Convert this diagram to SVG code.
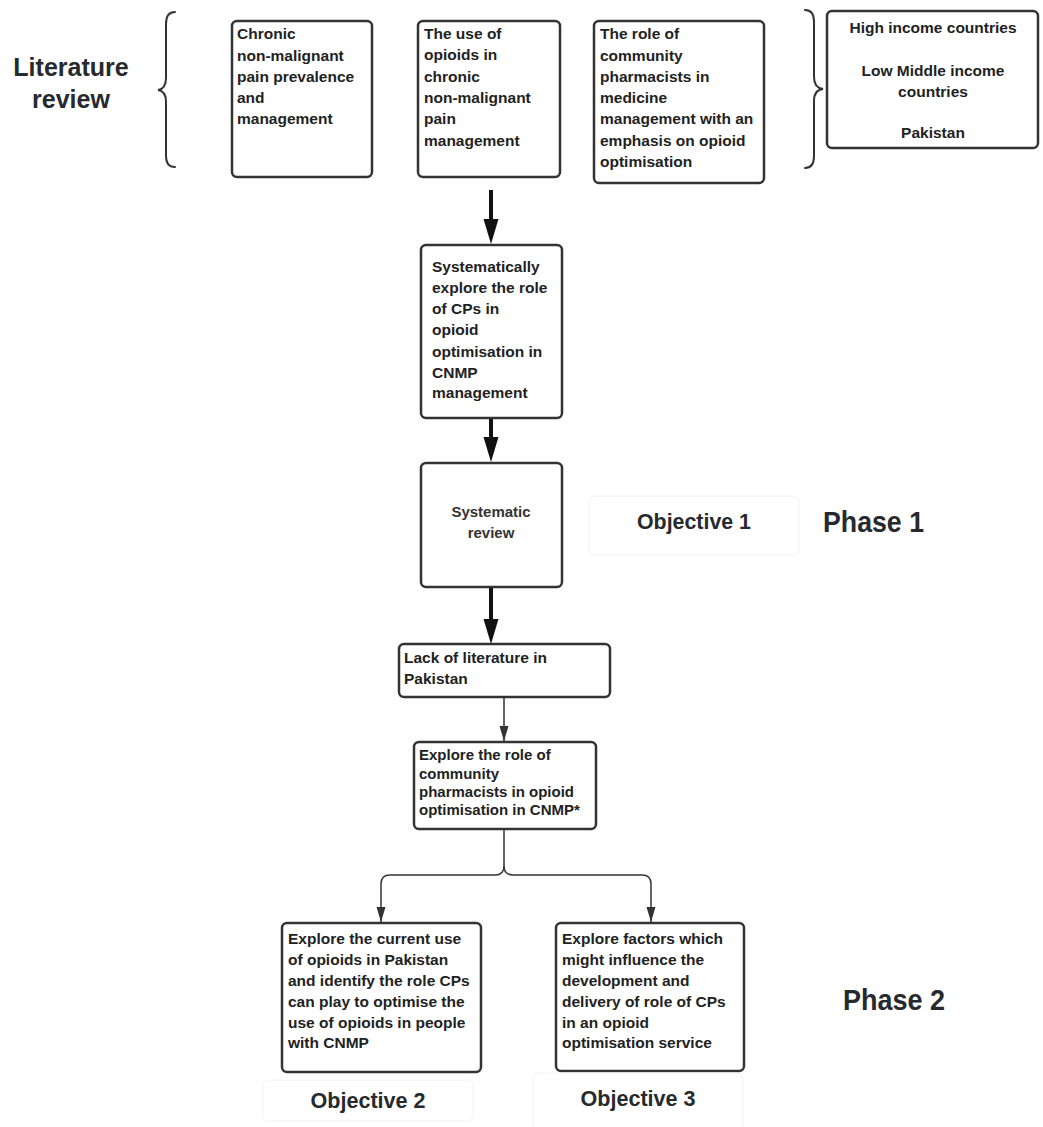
<svg xmlns="http://www.w3.org/2000/svg" width="1043" height="1127" viewBox="0 0 1043 1127">
  <style>
    .box { fill: #ffffff; stroke: #333333; stroke-width: 2.5; }
    .ghost { fill: #ffffff; stroke: #f2f2f2; stroke-width: 1; }
    .t { font-family: "Liberation Sans", Arial, sans-serif; font-weight: bold; font-size: 15.5px; fill: #222222; }
    .small { font-size: 15px; }
    .sr { font-size: 15px; fill: #333333; }
    .c { text-anchor: middle; }
    .big { font-family: "Liberation Sans", Arial, sans-serif; font-weight: bold; fill: #262a2e; }
    .brace { fill: none; stroke: #333333; stroke-width: 2; stroke-linecap: round; }
    .thick { stroke: #111111; stroke-width: 4; fill: none; }
    .thin { stroke: #333333; stroke-width: 1.5; fill: none; }
  </style>
  <defs>
    <marker id="headThick" markerUnits="userSpaceOnUse" markerWidth="26" markerHeight="16" refX="14" refY="8" orient="auto">
      <path d="M0,0.5 L25,8 L0,15.5 z" fill="#111111"/>
    </marker>
    <marker id="headThin" markerUnits="userSpaceOnUse" markerWidth="16" markerHeight="10" refX="15" refY="5" orient="auto">
      <path d="M0,0.5 L15,5 L0,9.5 z" fill="#333333"/>
    </marker>
  </defs>

  <rect width="1043" height="1127" fill="#ffffff"/>

  <!-- Section heading and braces -->
  <g id="literature-review">
    <text class="big c" x="71" y="76" font-size="25">Literature</text>
    <text class="big c" x="71" y="108" font-size="25">review</text>
  </g>
  <g id="brace-left">
    <path class="brace" d="M175,12 Q166,12 166,24 V78 Q166,89 158,90 Q166,91 166,102 V156 Q166,167 175,167"/>
  </g>
  <g id="brace-right">
    <path class="brace" d="M805,10 Q814,10 814,22 V77 Q814,88 823,89 Q814,90 814,101 V156 Q814,168 805,168"/>
  </g>

  <!-- Literature topics -->
  <g id="topic-cnmp">
    <rect class="box" x="232" y="21" width="140" height="156" rx="5"/>
    <text class="t" x="237" y="39">Chronic</text>
    <text class="t" x="237" y="61">non-malignant</text>
    <text class="t" x="237" y="82">pain prevalence</text>
    <text class="t" x="237" y="103">and</text>
    <text class="t" x="237" y="124">management</text>
  </g>
  <g id="topic-opioids">
    <rect class="box" x="418" y="21" width="142" height="156" rx="5"/>
    <text class="t" x="424" y="39">The use of</text>
    <text class="t" x="424" y="60">opioids in</text>
    <text class="t" x="424" y="82">chronic</text>
    <text class="t" x="424" y="103">non-malignant</text>
    <text class="t" x="424" y="124">pain</text>
    <text class="t" x="424" y="146">management</text>
  </g>
  <g id="topic-pharmacists">
    <rect class="box" x="594" y="21" width="170" height="162" rx="5"/>
    <text class="t" x="600" y="39">The role of</text>
    <text class="t" x="600" y="61">community</text>
    <text class="t" x="600" y="82">pharmacists in</text>
    <text class="t" x="600" y="103">medicine</text>
    <text class="t" x="600" y="124">management with an</text>
    <text class="t" x="600" y="146">emphasis on opioid</text>
    <text class="t" x="600" y="167">optimisation</text>
  </g>
  <g id="settings">
    <rect class="box" x="827" y="11" width="211" height="137" rx="5"/>
    <text class="t c" x="933" y="33">High income countries</text>
    <text class="t c" x="933" y="76">Low Middle income</text>
    <text class="t c" x="933" y="97">countries</text>
    <text class="t c" x="933" y="138">Pakistan</text>
  </g>

  <!-- Phase 1 -->
  <g id="aim-systematic">
    <rect class="box" x="421" y="245" width="141" height="173" rx="5"/>
    <text class="t" x="432" y="272">Systematically</text>
    <text class="t" x="432" y="293">explore the role</text>
    <text class="t" x="432" y="314">of CPs in</text>
    <text class="t" x="432" y="335">opioid</text>
    <text class="t" x="432" y="357">optimisation in</text>
    <text class="t" x="432" y="378">CNMP</text>
    <text class="t" x="432" y="398">management</text>
  </g>
  <g id="systematic-review">
    <rect class="box" x="421" y="463" width="141" height="124" rx="5"/>
    <text class="t sr c" x="491" y="517">Systematic</text>
    <text class="t sr c" x="491" y="538">review</text>
  </g>
  <g id="objective-1">
    <rect class="ghost" x="589" y="496" width="210" height="59" rx="6"/>
    <text class="big c" x="694" y="529" font-size="22" textLength="114" lengthAdjust="spacingAndGlyphs">Objective 1</text>
  </g>
  <g id="phase-1">
    <text class="big" x="823" y="532" font-size="29" textLength="101" lengthAdjust="spacingAndGlyphs">Phase 1</text>
  </g>
  <g id="gap-pakistan">
    <rect class="box" x="399" y="644" width="211" height="53" rx="5"/>
    <text class="t" x="404" y="663">Lack of literature in</text>
    <text class="t" x="404" y="684">Pakistan</text>
  </g>

  <!-- Phase 2 -->
  <g id="aim-explore">
    <rect class="box" x="414" y="742" width="182" height="87" rx="5"/>
    <text class="t small" x="419" y="760">Explore the role of</text>
    <text class="t small" x="419" y="779">community</text>
    <text class="t small" x="419" y="797">pharmacists in opioid</text>
    <text class="t small" x="419" y="815">optimisation in CNMP*</text>
  </g>
  <g id="current-use">
    <rect class="box" x="282" y="923" width="199" height="149" rx="5"/>
    <text class="t" x="288" y="944">Explore the current use</text>
    <text class="t" x="288" y="965">of opioids in Pakistan</text>
    <text class="t" x="288" y="986">and identify the role CPs</text>
    <text class="t" x="288" y="1007">can play to optimise the</text>
    <text class="t" x="288" y="1028">use of opioids in people</text>
    <text class="t" x="288" y="1048">with CNMP</text>
  </g>
  <g id="influencing-factors">
    <rect class="box" x="556" y="923" width="188" height="148" rx="5"/>
    <text class="t" x="562" y="944">Explore factors which</text>
    <text class="t" x="562" y="965">might influence the</text>
    <text class="t" x="562" y="986">development and</text>
    <text class="t" x="562" y="1007">delivery of role of CPs</text>
    <text class="t" x="562" y="1028">in an opioid</text>
    <text class="t" x="562" y="1048">optimisation service</text>
  </g>
  <g id="phase-2">
    <text class="big" x="843" y="1010" font-size="29" textLength="102" lengthAdjust="spacingAndGlyphs">Phase 2</text>
  </g>
  <g id="objective-2">
    <rect class="ghost" x="263" y="1080" width="210" height="41" rx="6"/>
    <text class="big c" x="368" y="1108" font-size="22" textLength="115" lengthAdjust="spacingAndGlyphs">Objective 2</text>
  </g>
  <g id="objective-3">
    <rect class="ghost" x="533" y="1073" width="210" height="60" rx="6"/>
    <text class="big c" x="638" y="1106" font-size="22" textLength="115" lengthAdjust="spacingAndGlyphs">Objective 3</text>
  </g>

  <!-- Connectors -->
  <g id="connectors">
    <line class="thick" x1="491" y1="190" x2="491" y2="233" marker-end="url(#headThick)"/>
    <line class="thick" x1="491" y1="419" x2="491" y2="451" marker-end="url(#headThick)"/>
    <line class="thick" x1="491" y1="588" x2="491" y2="633" marker-end="url(#headThick)"/>
    <line class="thin" x1="504" y1="697" x2="504" y2="741" marker-end="url(#headThin)"/>
    <path class="thin" d="M504,829 V866 Q504,875 495,875 H390 Q381,875 381,884 V922" marker-end="url(#headThin)"/>
    <path class="thin" d="M504,866 Q504,875 513,875 H642 Q651,875 651,884 V922" marker-end="url(#headThin)"/>
  </g>
</svg>
